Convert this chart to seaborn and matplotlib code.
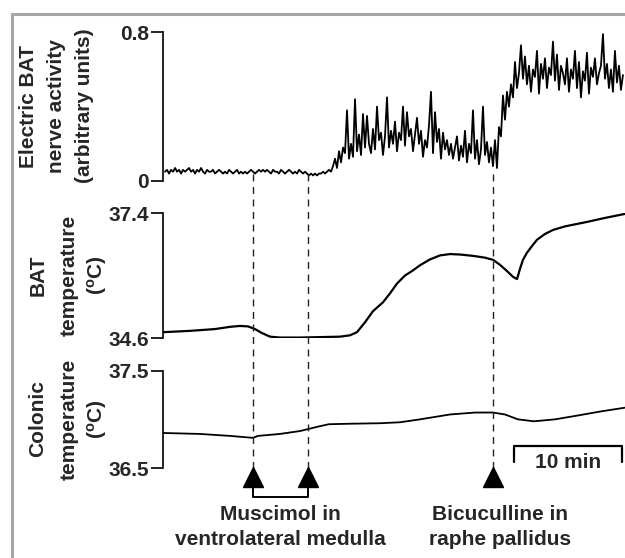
import numpy as np
import pandas as pd
import matplotlib
matplotlib.use("Agg")
import matplotlib.pyplot as plt
from matplotlib import font_manager
from matplotlib.patches import Rectangle
import seaborn as sns

# ---------------- data (time in minutes) ----------------
NERVE_T0, NERVE_T1 = 0.19, 42.59
NERVE_ACTIVITY = [
    0.05, 0.06, 0.04, 0.06, 0.05, 0.07, 0.05, 0.06, 0.04, 0.06,
    0.05, 0.06, 0.07, 0.05, 0.06, 0.04, 0.06, 0.05, 0.07, 0.05,
    0.04, 0.06, 0.05, 0.05, 0.06, 0.04, 0.05, 0.06, 0.05, 0.04,
    0.05, 0.04, 0.06, 0.05, 0.04, 0.05, 0.06, 0.04, 0.05, 0.04,
    0.05, 0.04, 0.05, 0.06, 0.05, 0.04, 0.05, 0.06, 0.05, 0.06,
    0.05, 0.06, 0.05, 0.04, 0.06, 0.05, 0.05, 0.04, 0.06, 0.05,
    0.04, 0.05, 0.06, 0.05, 0.04, 0.05, 0.04, 0.06, 0.05, 0.04,
    0.05, 0.04, 0.03, 0.04, 0.03, 0.04, 0.03, 0.04, 0.04, 0.05,
    0.04, 0.05, 0.06, 0.05, 0.08, 0.12, 0.07, 0.16, 0.10, 0.18,
    0.15, 0.38, 0.12, 0.20, 0.13, 0.44, 0.16, 0.25, 0.14, 0.36,
    0.18, 0.35, 0.20, 0.15, 0.28, 0.17, 0.40, 0.22, 0.26, 0.14,
    0.24, 0.45, 0.18, 0.27, 0.20, 0.32, 0.16, 0.26, 0.22, 0.40,
    0.19, 0.37, 0.24, 0.28, 0.16, 0.25, 0.34, 0.20, 0.27, 0.13,
    0.22, 0.18, 0.30, 0.48, 0.15, 0.37, 0.21, 0.28, 0.12, 0.26,
    0.17, 0.22, 0.14, 0.20, 0.12, 0.18, 0.24, 0.11, 0.19, 0.13,
    0.27, 0.10, 0.20, 0.15, 0.38, 0.12, 0.22, 0.09, 0.17, 0.40,
    0.14, 0.21, 0.10, 0.18, 0.08, 0.22, 0.07, 0.29, 0.24, 0.46,
    0.33, 0.48, 0.40, 0.52, 0.45, 0.64, 0.50, 0.58, 0.73, 0.55,
    0.67, 0.52, 0.62, 0.48, 0.60, 0.56, 0.70, 0.47, 0.63, 0.55,
    0.66, 0.50, 0.61, 0.57, 0.75, 0.54, 0.68, 0.49, 0.62, 0.58,
    0.52, 0.66, 0.48, 0.60, 0.55, 0.70, 0.50, 0.64, 0.45, 0.59,
    0.54, 0.69, 0.47, 0.61, 0.56, 0.66, 0.52, 0.58, 0.62, 0.79,
    0.55, 0.63, 0.50, 0.60, 0.48, 0.70, 0.53, 0.62, 0.49, 0.57,
]

BAT_TIME = [0.0, 2.5, 4.81, 6.20, 7.13, 7.87, 8.52, 9.17, 9.91, 10.83, 12.69,
            14.54, 16.39, 17.31, 17.96, 18.70, 19.44, 20.37, 21.02, 21.67,
            22.41, 23.06, 23.80, 24.72, 25.65, 26.57, 27.50, 28.70, 29.81,
            30.56, 31.20, 31.85, 32.41, 32.78, 33.06, 33.33, 33.70, 34.17,
            34.63, 35.37, 36.11, 37.22, 39.26, 40.93, 42.78]
BAT_TEMP = [34.73, 34.76, 34.80, 34.85, 34.87, 34.86, 34.80, 34.71, 34.63,
            34.61, 34.61, 34.62, 34.63, 34.66, 34.73, 34.95, 35.20, 35.40,
            35.60, 35.82, 36.00, 36.10, 36.23, 36.36, 36.45, 36.48, 36.47,
            36.44, 36.40, 36.35, 36.24, 36.10, 35.97, 35.92, 36.15, 36.35,
            36.51, 36.66, 36.80, 36.93, 37.02, 37.10, 37.20, 37.29, 37.38]

COLON_TIME = [0.0, 3.43, 6.20, 8.33, 8.80, 10.83, 12.69, 13.43, 14.54, 15.37,
              17.31, 20.09, 21.94, 23.80, 26.57, 28.89, 30.56, 31.67, 32.87,
              34.35, 36.30, 38.43, 40.46, 42.78]
COLON_TEMP = [36.86, 36.85, 36.83, 36.81, 36.83, 36.85, 36.88, 36.90, 36.93,
              36.95, 36.955, 36.96, 36.97, 37.00, 37.05, 37.07, 37.07, 37.05,
              37.00, 36.98, 37.00, 37.04, 37.08, 37.12]

NERVE_TICKS = [0, 0.8]
NERVE_TICKLABELS = ["0", "0.8"]
BAT_TICKS = [34.6, 37.4]
BAT_TICKLABELS = ["34.6", "37.4"]
COLON_TICKS = [36.5, 37.5]
COLON_TICKLABELS = ["36.5", "37.5"]

MUSCIMOL_TIMES = [8.33, 13.43]
BICUCULLINE_TIMES = [30.56]
MUSCIMOL_LABEL = "Muscimol in\nventrolateral medulla"
BICUCULLINE_LABEL = "Bicuculline in\nraphe pallidus"
SCALE_BAR_START, SCALE_BAR_LEN = 32.5, 10
SCALE_BAR_LABEL = "10 min"

NERVE_YLABEL = ["Electric BAT", "nerve activity", "(arbitrary units)"]
BAT_YLABEL = ["BAT", "temperature", "($\\mathregular{^o}$C)"]
COLON_YLABEL = ["Colonic", "temperature", "($\\mathregular{^o}$C)"]

# ---------------- style ----------------
sns.set_style("white")
names = {f.name for f in font_manager.fontManager.ttflist}
FONT = "Liberation Sans Narrow" if "Liberation Sans Narrow" in names else "Liberation Sans"
plt.rcParams["font.family"] = [FONT, "DejaVu Sans"]
plt.rcParams["mathtext.fontset"] = "custom"
plt.rcParams["mathtext.rm"] = FONT

W, H = 625, 558
fig = plt.figure(figsize=(W / 100, H / 100), dpi=100)
fig.patch.set_facecolor("white")

XMIN, XMAX = 0.0, 42.78
LEFT_PX = 163


def fx(px):
    return px / W


def fy(py):
    return 1 - py / H


def make_axes(top_px, bottom_px):
    return fig.add_axes([fx(LEFT_PX), fy(bottom_px), fx(W - LEFT_PX),
                         (bottom_px - top_px) / H])


ax1 = make_axes(32.3, 181)
ax2 = make_axes(213, 338)
ax3 = make_axes(370.7, 468)

nerve_df = pd.DataFrame({
    "t": np.linspace(NERVE_T0, NERVE_T1, len(NERVE_ACTIVITY)),
    "v": NERVE_ACTIVITY,
})
bat_df = pd.DataFrame({"t": BAT_TIME, "v": BAT_TEMP})
col_df = pd.DataFrame({"t": COLON_TIME, "v": COLON_TEMP})

sns.lineplot(data=nerve_df, x="t", y="v", ax=ax1, color="black", lw=1.3)
sns.lineplot(data=bat_df, x="t", y="v", ax=ax2, color="black", lw=1.6)
sns.lineplot(data=col_df, x="t", y="v", ax=ax3, color="black", lw=1.3)

for ax, lims, ticks, labels in [
    (ax1, (0, 0.8), NERVE_TICKS, NERVE_TICKLABELS),
    (ax2, (34.6, 37.4), BAT_TICKS, BAT_TICKLABELS),
    (ax3, (36.5, 37.5), COLON_TICKS, COLON_TICKLABELS),
]:
    ax.set_xlim(XMIN, XMAX)
    ax.set_ylim(*lims)
    ax.set_facecolor("none")
    for s in ["top", "right", "bottom"]:
        ax.spines[s].set_visible(False)
    ax.spines["left"].set_color("black")
    ax.spines["left"].set_linewidth(1.2)
    ax.set_xticks([])
    ax.set_yticks(ticks)
    ax.set_yticklabels(labels, fontsize=15, fontweight="bold")
    ax.tick_params(axis="y", direction="out", length=9, width=1.2,
                   color="black", pad=1, left=True)
    ax.set_xlabel("")
    ax.set_ylabel("")
    ax.patch.set_visible(False)

# y-axis labels (three lines each, rotated)
label_sets = [
    (NERVE_YLABEL, [29, 57, 85], 106),
    (BAT_YLABEL, [38, 69, 97], 275),
    (COLON_YLABEL, [38, 69, 97], 419),
]
for lines, xs, yc in label_sets:
    for txt, xp in zip(lines, xs):
        fig.text(fx(xp), fy(yc), txt, rotation=90, ha="center", va="center",
                 fontsize=15, fontweight="bold")

# overlay for event markers, annotations and scale bar
ov = fig.add_axes([0, 0, 1, 1], zorder=5)
px_per_min = (W - LEFT_PX) / (XMAX - XMIN)
ov.set_xlim(XMIN - LEFT_PX / px_per_min, XMAX)
ov.set_ylim(H, 0)
ov.axis("off")
ov.patch.set_visible(False)

all_events = MUSCIMOL_TIMES + BICUCULLINE_TIMES
ov.vlines(all_events, 174, 470, colors="#222222", linestyles=(0, (5, 4)), lw=1.0)
ov.plot(all_events, [477] * len(all_events), ls="none", marker="^",
        markersize=14, color="black")
# bracket joining the two muscimol injections
ov.plot([MUSCIMOL_TIMES[0], MUSCIMOL_TIMES[0], MUSCIMOL_TIMES[1], MUSCIMOL_TIMES[1]],
        [485, 497, 497, 485], color="black", lw=1.4)

mus_c = sum(MUSCIMOL_TIMES) / 2
ov.text(mus_c, 527, MUSCIMOL_LABEL, ha="center", va="center", fontsize=15,
        fontweight="bold", linespacing=1.45)
ov.text(BICUCULLINE_TIMES[0] + 0.65, 527, BICUCULLINE_LABEL, ha="center",
        va="center", fontsize=15, fontweight="bold", linespacing=1.45)

# 10-min scale bar
sb0, sb1 = SCALE_BAR_START, SCALE_BAR_START + SCALE_BAR_LEN
ov.plot([sb0, sb0, sb1, sb1], [462, 445.5, 445.5, 462], color="black", lw=1.6)
ov.text((sb0 + sb1) / 2, 462, SCALE_BAR_LABEL, ha="center", va="center",
        fontsize=15, fontweight="bold")

# grey frame around the figure (cut off at right and bottom)
fig.patches.append(Rectangle((fx(12), -0.1), 1.2, fy(14.5) + 0.1,
                             transform=fig.transFigure, fill=False,
                             edgecolor="#a6a6a6", lw=2.2, zorder=0))

fig.savefig("out.png", dpi=100, facecolor="white")
